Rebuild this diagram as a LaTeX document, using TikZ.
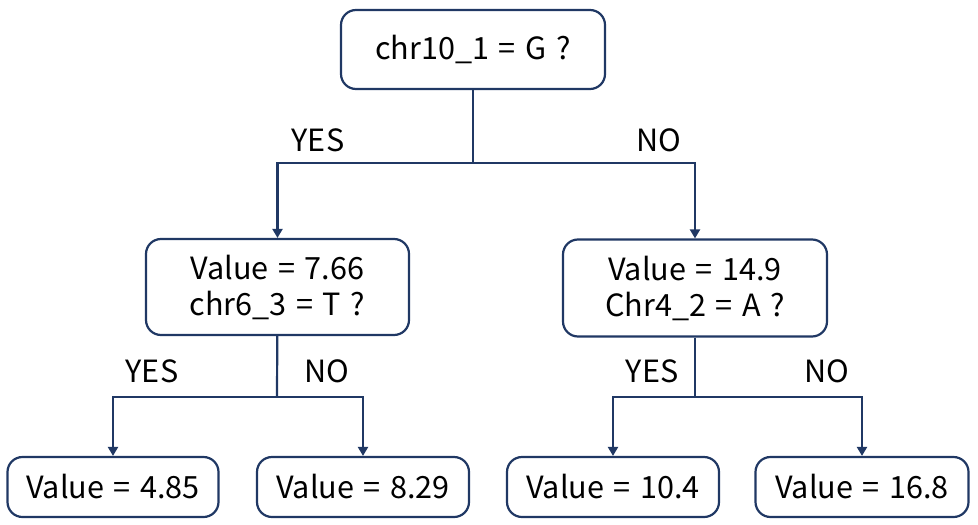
\documentclass[tikz,border=0pt]{standalone}
\usepackage{fontspec}
\setmainfont{Noto Sans CJK JP}[WordSpace=1.4]
\usetikzlibrary{arrows.meta, positioning}
\usepackage{xcolor}
\definecolor{navy}{RGB}{32,56,100}

\begin{document}
\begin{tikzpicture}[
x=0.5pt, y=-0.5pt,
font=\fontsize{15.3}{18}\selectfont,
box/.style={draw=navy,
line width=1.1pt,
rounded corners=7.5pt,
rectangle,
minimum height=30pt,
inner sep=0pt,
align=center},
arrow/.style={-{Triangle[width=5pt,length=4.5pt]}, navy, line width=1.1pt},
link/.style={navy, line width=1.1pt},
answer/.style={inner sep=0pt}
]
\useasboundingbox (0,0) rectangle (978,524);

\node[box, minimum width=132pt, minimum height=39.5pt] (root) at (473,49.5) {chr10\_1 = G ?};
\node[box, minimum width=131.5pt, minimum height=48pt] (q1) at (277.5,287) {Value = 7.66\\chr6\_3 = T ?};
\node[box, minimum width=132pt, minimum height=48.5pt] (q2) at (695,288) {Value = 14.9\\Chr4\_2 = A ?};

\node[box, minimum width=105.5pt] (leaf1) at (113,487) {Value = 4.85};
\node[box, minimum width=106pt] (leaf2) at (363,487) {Value = 8.29};
\node[box, minimum width=106pt] (leaf3) at (613,487) {Value = 10.4};
\node[box, minimum width=106.5pt] (leaf4) at (862,487) {Value = 16.8};

\node[answer] (yes0) at (318,140) {YES};
\node[answer] (no0) at (659,140) {NO};
\node[answer] (yes1) at (152,371) {YES};
\node[answer] (no1) at (327,371) {NO};
\node[answer] (yes2) at (652,371) {YES};
\node[answer] (no2) at (827,371) {NO};

\coordinate (split0) at (473,163);
\coordinate (split1) at (277,397);
\coordinate (split2) at (695,397);

\draw[link] (root) -- (split0);
\draw[arrow] (split0) -| (q1);
\draw[arrow] (split0) -| (q2);

\draw[link] (q1) -- (split1);
\draw[arrow] (split1) -| (leaf1);
\draw[arrow] (split1) -| (leaf2);

\draw[link] (q2) -- (split2);
\draw[arrow] (split2) -| (leaf3);
\draw[arrow] (split2) -| (leaf4);

\end{tikzpicture}
\end{document}
